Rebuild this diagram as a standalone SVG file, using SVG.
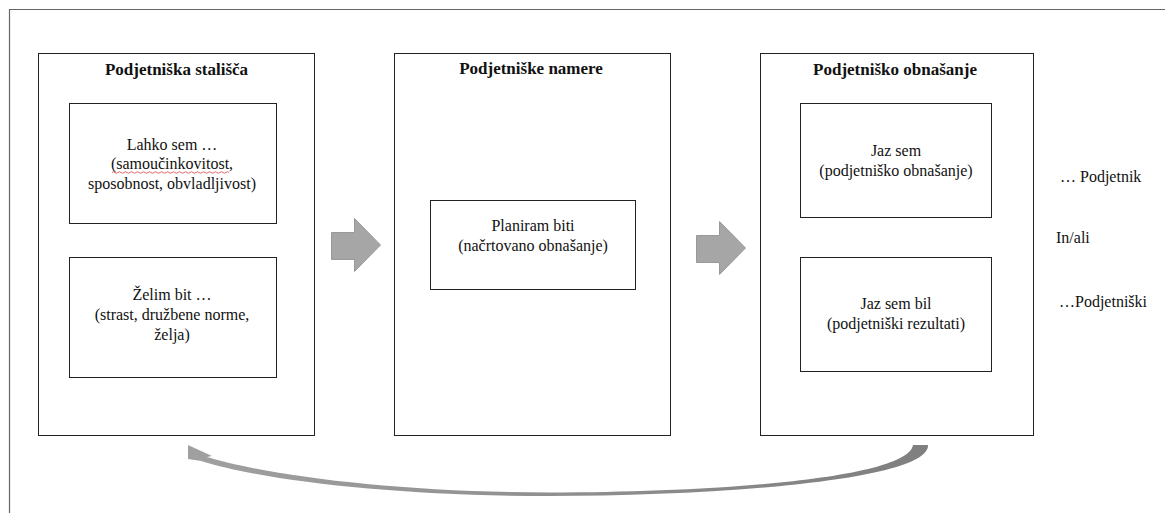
<svg xmlns="http://www.w3.org/2000/svg" width="1165" height="513" viewBox="0 0 1165 513">
<style>
.box{fill:#fff;stroke:#222;stroke-width:1}
.t{font-family:"Liberation Serif","Times New Roman",Times,serif;font-size:16px;fill:#111;text-anchor:middle}
.b{font-weight:bold;font-size:17px}
.s{font-family:"Liberation Serif","Times New Roman",Times,serif;font-size:16px;fill:#111}
.arr{fill:#a6a6a6;stroke:#999;stroke-width:1}
</style>
<defs>
<linearGradient id="cg" x1="0" y1="0" x2="1" y2="0">
<stop offset="0" stop-color="#a0a0a0"/>
<stop offset="1" stop-color="#7f7f7f"/>
</linearGradient>
</defs>
<rect width="1165" height="513" fill="#fff"/>
<path d="M9.5,513 V9.5 H1165" fill="none" stroke="#666" stroke-width="1.2"/>

<g id="node-stalisca">
<rect class="box" x="38.5" y="53.5" width="276" height="382"/>
<text class="t b" x="176.5" y="75">Podjetniška stališča</text>
</g>
<g id="node-lahko">
<rect class="box" x="69.5" y="103.5" width="207" height="120"/>
<text class="t" x="172" y="150">Lahko sem …</text>
<text class="t" x="172" y="169">(samoučinkovitost,</text>
<text class="t" x="172" y="189">sposobnost, obvladljivost)</text>
<path d="M112,172.5 q1.5,-1.5 3,0 t3,0 t3,0 t3,0 t3,0 t3,0 t3,0 t3,0 t3,0 t3,0 t3,0 t3,0 t3,0 t3,0 t3,0 t3,0 t3,0 t3,0 t3,0 t3,0 t3,0 t3,0 t3,0 t3,0 t3,0 t3,0 t3,0 t3,0 t3,0 t3,0 t3,0 t3,0 t3,0 t3,0 t3,0 t3,0 t3,0 t3,0 t3,0" fill="none" stroke="#e04040" stroke-width="0.8"/>
</g>
<g id="node-zelim">
<rect class="box" x="69.5" y="257.5" width="207" height="120"/>
<text class="t" x="172" y="300">Želim bit …</text>
<text class="t" x="172" y="320">(strast, družbene norme,</text>
<text class="t" x="172" y="340">želja)</text>
</g>

<g id="node-namere">
<rect class="box" x="394.5" y="53.5" width="276" height="382"/>
<text class="t b" x="531" y="74">Podjetniške namere</text>
</g>
<g id="node-planiram">
<rect class="box" x="430.5" y="200.5" width="205" height="89"/>
<text class="t" x="533" y="231">Planiram biti</text>
<text class="t" x="533" y="251">(načrtovano obnašanje)</text>
</g>

<g id="node-obnasanje">
<rect class="box" x="760.5" y="53.5" width="273" height="382"/>
<text class="t b" x="895" y="75">Podjetniško obnašanje</text>
</g>
<g id="node-jazsem">
<rect class="box" x="800.5" y="103.5" width="191" height="114"/>
<text class="t" x="896" y="156">Jaz sem</text>
<text class="t" x="896" y="176">(podjetniško obnašanje)</text>
</g>
<g id="node-jazsembil">
<rect class="box" x="800.5" y="257.5" width="191" height="114"/>
<text class="t" x="896" y="309">Jaz sem bil</text>
<text class="t" x="896" y="329">(podjetniški rezultati)</text>
</g>

<g id="node-side">
<text class="s" x="1060" y="182">… Podjetnik</text>
<text class="s" x="1056" y="243">In/ali</text>
<text class="s" x="1059" y="307">…Podjetniški</text>
</g>

<g id="connectors">
<path class="arr" d="M331.5,232.5 H354.5 V218.5 L380.5,245 L354.5,271.5 V259.5 H331.5 Z"/>
<path class="arr" d="M696.5,235.5 H719.5 V221.5 L745.5,248 L719.5,274.5 V262.5 H696.5 Z"/>
<path d="M928,445 C930,480 720,496 550,496 C400,496 270,482 201,461 L188,459 L188,445 L212,456 L207,457 C270,476 400,492.5 550,492.5 C720,492.5 908,478 913,445 Z" fill="url(#cg)"/>
</g>
</svg>
